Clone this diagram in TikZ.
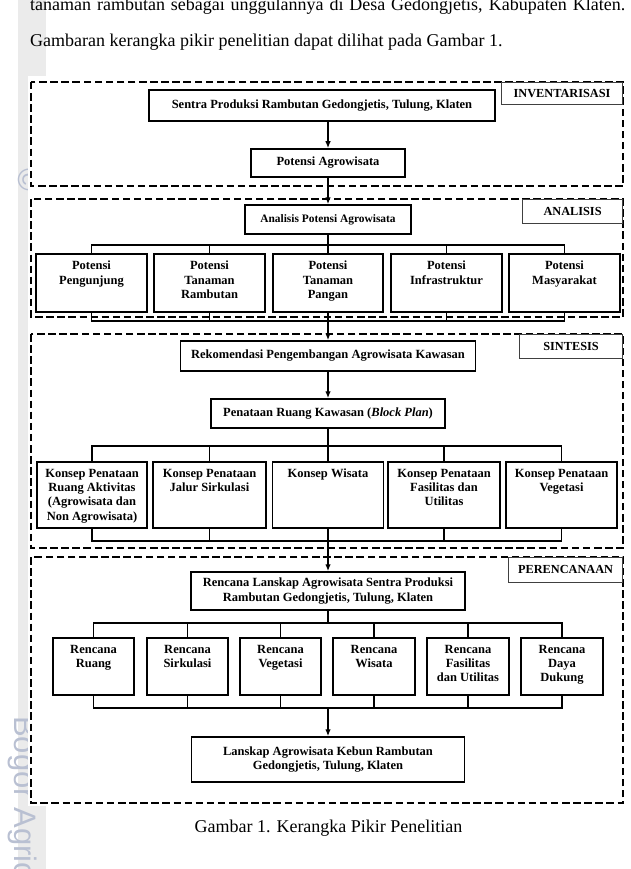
\documentclass[tikz,border=0pt]{standalone}
\usepackage{fontspec}
\setmainfont{Liberation Serif}
\newfontfamily\wmfont{Liberation Sans}
\usetikzlibrary{arrows.meta}
\definecolor{wmcol}{RGB}{185,192,210}
\newcommand{\tbox}[6]{%
  \node[boxst, minimum width=#4pt, minimum height=#5pt, anchor=north] (#1) at (#2,#3) {};
  \node[txt, anchor=north] (#1t) at ([yshift=-8pt]#1.north) {#6};
}
\begin{document}
\begin{tikzpicture}[x=1pt,y=-1pt,
  boxst/.style={draw=black, line width=1.5pt, fill=white, inner sep=0pt},
  txt/.style={font=\fontsize{12.5}{14.3}\selectfont\bfseries, align=center, inner sep=0pt},
  cbox/.style={boxst, txt},
  conn/.style={line width=1.3pt},
  arr/.style={line width=1.3pt, -{Latex[length=7pt,width=5.5pt]}},
  dbox/.style={line width=1.9pt, dash pattern=on 7.5pt off 3.6pt},
  lbl/.style={draw=black!75, line width=0.9pt, fill=white, inner sep=0pt, font=\fontsize{12.3}{14}\selectfont\bfseries},
  body/.style={font=\fontsize{18}{21}\selectfont, inner sep=0pt},
  wm/.style={font=\wmfont\fontsize{31}{31}\selectfont, text=wmcol, inner sep=0pt}
]
\clip (0,0) rectangle (631,869);
\fill[white] (0,0) rectangle (631,869);
% scan band and watermark
\fill[black!8] (18,0) rectangle (46,869);
\node[wm, rotate=-90, anchor=base west] (wm1) at (14,716) {Bogor Agricultural University};
\node[wm, rotate=-90] (wm2) at (29,180) {©};
\fill[white] (28,76) rectangle (631,806);

% top text
\node[body, anchor=base west] (l1) at (30,11) {\makebox[595pt][s]{tanaman rambutan sebagai unggulannya di Desa Gedongjetis, Kabupaten Klaten.}};
\node[body, anchor=base west] (l2) at (30,47) {Gambaran kerangka pikir penelitian dapat dilihat pada Gambar 1.};

% dashed stage frames
\draw[dbox] (31,82) rectangle (623,186);
\draw[dbox] (31,199) rectangle (623,317);
\draw[dbox] (31,334) rectangle (623,548);
\draw[dbox] (31,557) rectangle (623,803);

% stage labels
\node[lbl, minimum width=121pt, minimum height=22pt, anchor=north east] (linv) at (623,82) {INVENTARISASI};
\node[lbl, minimum width=100pt, minimum height=24pt, anchor=north east] (lana) at (623,199) {ANALISIS};
\node[lbl, minimum width=103pt, minimum height=24pt, anchor=north east] (lsin) at (623,334) {SINTESIS};
\node[lbl, minimum width=114pt, minimum height=25pt, anchor=north east] (lper) at (623,557) {PERENCANAAN};

% inventarisasi
\node[cbox, minimum width=346pt, minimum height=31pt] (sentra) at (322,105.5) {Sentra Produksi Rambutan Gedongjetis, Tulung, Klaten};
\node[cbox, minimum width=154pt, minimum height=28pt] (pa) at (328,163) {Potensi Agrowisata};

% analisis
\node[cbox, minimum width=166pt, minimum height=29pt, font=\fontsize{11.4}{14}\selectfont\bfseries] (an) at (328,219.5) {Analisis Potensi Agrowisata};
\tbox{p1}{91.5}{253}{111}{58}{Potensi\\Pengunjung}
\tbox{p2}{209.5}{253}{111}{58}{Potensi\\Tanaman\\Rambutan}
\tbox{p3}{328}{253}{110}{58}{Potensi\\Tanaman\\Pangan}
\tbox{p4}{446.5}{253}{111}{58}{Potensi\\Infrastruktur}
\tbox{p5}{564.5}{253}{111}{58}{Potensi\\Masyarakat}

% sintesis
\node[cbox, minimum width=295pt, minimum height=30pt] (rek) at (328,356) {Rekomendasi Pengembangan Agrowisata Kawasan};
\node[cbox, minimum width=234pt, minimum height=29pt] (pen) at (328,413.5) {Penataan Ruang Kawasan (\textit{Block Plan})};
\tbox{k1}{92}{461}{110}{66}{Konsep Penataan\\Ruang Aktivitas\\(Agrowisata dan\\Non Agrowisata)}
\tbox{k2}{209.5}{461}{113}{66}{Konsep Penataan\\Jalur Sirkulasi}
\tbox{k3}{328}{461}{111}{66}{Konsep Wisata}
\tbox{k4}{444}{461}{112}{66}{Konsep Penataan\\Fasilitas dan\\Utilitas}
\tbox{k5}{561.5}{461}{111}{66}{Konsep Penataan\\Vegetasi}

% perencanaan
\node[cbox, minimum width=274pt, minimum height=38pt] (rl) at (328,591) {Rencana Lanskap Agrowisata Sentra Produksi\\Rambutan Gedongjetis, Tulung, Klaten};
\tbox{r1}{93.5}{637}{81}{57}{Rencana\\Ruang}
\tbox{r2}{187.5}{637}{81}{57}{Rencana\\Sirkulasi}
\tbox{r3}{280.5}{637}{81}{57}{Rencana\\Vegetasi}
\tbox{r4}{374}{637}{82}{57}{Rencana\\Wisata}
\tbox{r5}{468}{637}{82}{57}{Rencana\\Fasilitas\\dan Utilitas}
\tbox{r6}{562}{637}{82}{57}{Rencana\\Daya\\Dukung}
\node[cbox, minimum width=273pt, minimum height=45pt] (lan) at (328,759.5) {Lanskap Agrowisata Kebun Rambutan\\Gedongjetis, Tulung, Klaten};

% caption
\node[body, anchor=base] (cap) at (328.5,832) {Gambar 1. Kerangka Pikir Penelitian};

% connectors
\coordinate (bA) at (328,245);
\coordinate (bB) at (328,321);
\coordinate (bC) at (328,446);
\coordinate (bD) at (328,541);
\coordinate (bE) at (328,623);
\coordinate (bF) at (328,708);

\draw[arr] (sentra.south -| pa.north) -- (pa.north);
\draw[arr] (pa.south) -- (an.north);
\draw[conn] (an.south) -- (p3.north);
\draw[conn] (p1.north) -- (p1.north |- bA) -- (p5.north |- bA) -- (p5.north);
\foreach \n in {p2,p4} \draw[conn] (\n.north) -- (\n.north |- bA);
\draw[conn] (p1.south) -- (p1.south |- bB) -- (p5.south |- bB) -- (p5.south);
\foreach \n in {p2,p4} \draw[conn] (\n.south) -- (\n.south |- bB);
\draw[arr] (p3.south) -- (rek.north);

\draw[arr] (rek.south) -- (pen.north);
\draw[conn] (pen.south) -- (k3.north);
\draw[conn] (k1.north) -- (k1.north |- bC) -- (k5.north |- bC) -- (k5.north);
\foreach \n in {k2,k4} \draw[conn] (\n.north) -- (\n.north |- bC);
\draw[conn] (k1.south) -- (k1.south |- bD) -- (k5.south |- bD) -- (k5.south);
\foreach \n in {k2,k4} \draw[conn] (\n.south) -- (\n.south |- bD);
\draw[arr] (k3.south) -- (rl.north);

\draw[conn] (rl.south) -- (bE);
\draw[conn] (r1.north) -- (r1.north |- bE) -- (r6.north |- bE) -- (r6.north);
\foreach \n in {r2,r3,r4,r5} \draw[conn] (\n.north) -- (\n.north |- bE);
\draw[conn] (r1.south) -- (r1.south |- bF) -- (r6.south |- bF) -- (r6.south);
\foreach \n in {r2,r3,r4,r5} \draw[conn] (\n.south) -- (\n.south |- bF);
\draw[arr] (bF) -- (lan.north);
\end{tikzpicture}
\end{document}
